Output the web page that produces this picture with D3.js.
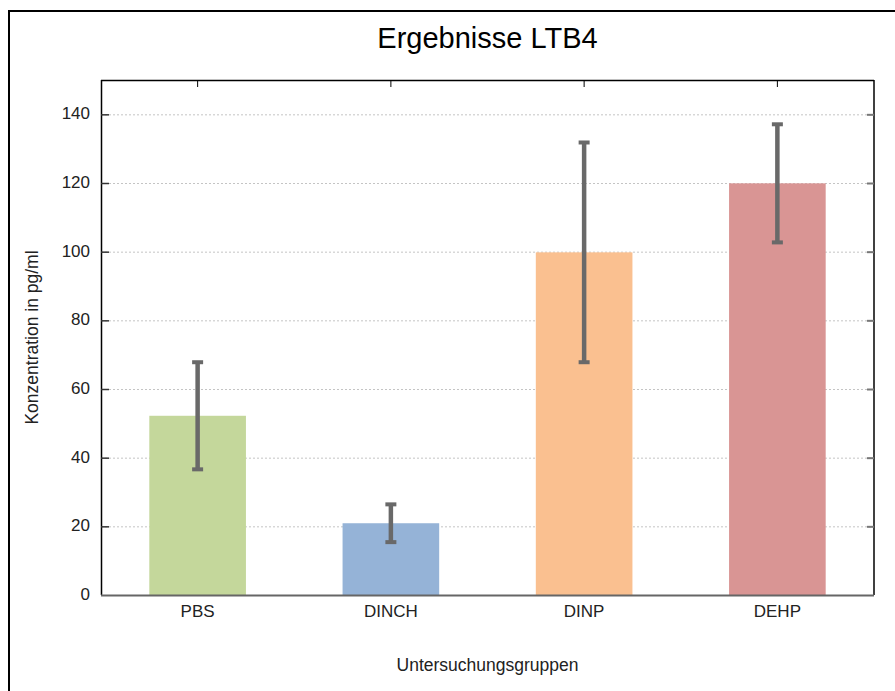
<!DOCTYPE html>
<html>
<head>
<meta charset="utf-8">
<script src="https://cdn.jsdelivr.net/npm/d3@7"></script>
<style>
  body { margin: 0; background: #fff; }
  svg { display: block; font-family: "Liberation Sans", Arial, sans-serif; }
</style>
</head>
<body>
<div id="chart"></div>
<script>
// data
var groups = ["PBS", "DINCH", "DINP", "DEHP"];
var means = [52.2, 20.9, 99.8, 119.9];
var errors = [15.6, 5.5, 32, 17.2];
var barColors = ["#c4d79b", "#95b3d7", "#fac090", "#d99594"];
var yTicks = [0, 20, 40, 60, 80, 100, 120, 140];

var width = 895, height = 691;
// plot box (note: "top" is reserved on window, so pLeft/pTop...)
var pLeft = 101, pRight = 874, pTop = 80, pBottom = 595;

var svg = d3.select("#chart").append("svg")
    .attr("width", width).attr("height", height);

// outer frame (only left and top are visible)
svg.append("rect")
    .attr("x", 9).attr("y", 11)
    .attr("width", 920).attr("height", 720)
    .attr("fill", "#fff").attr("stroke", "#000").attr("stroke-width", 2);

var x = d3.scaleBand().domain(groups).range([pLeft, pRight])
    .paddingInner(0.5).paddingOuter(0.25);
var y = d3.scaleLinear().domain([0, 150]).range([pBottom, pTop]);

// grid
svg.selectAll(".grid").data(yTicks.slice(1)).enter().append("line")
    .attr("x1", pLeft).attr("x2", pRight)
    .attr("y1", function(d) { return y(d) + 0.5; })
    .attr("y2", function(d) { return y(d) + 0.5; })
    .attr("stroke", "#c4c4c4").attr("stroke-dasharray", "2,2");

// bars
svg.selectAll(".bar").data(groups).enter().append("rect")
    .attr("x", function(d) { return x(d); })
    .attr("width", x.bandwidth())
    .attr("y", function(d, i) { return y(means[i]); })
    .attr("height", function(d, i) { return y(0) - y(means[i]); })
    .attr("fill", function(d, i) { return barColors[i]; });

// error bars
var eb = svg.selectAll(".err").data(groups).enter().append("g");
eb.append("line")
    .attr("x1", function(d) { return x(d) + x.bandwidth() / 2; })
    .attr("x2", function(d) { return x(d) + x.bandwidth() / 2; })
    .attr("y1", function(d, i) { return y(means[i] + errors[i]); })
    .attr("y2", function(d, i) { return y(means[i] - errors[i]); })
    .attr("stroke", "#696969").attr("stroke-width", 4.5);
[1, -1].forEach(function(s) {
  eb.append("line")
      .attr("x1", function(d) { return x(d) + x.bandwidth() / 2 - 5.5; })
      .attr("x2", function(d) { return x(d) + x.bandwidth() / 2 + 5.5; })
      .attr("y1", function(d, i) { return y(means[i] + s * errors[i]); })
      .attr("y2", function(d, i) { return y(means[i] + s * errors[i]); })
      .attr("stroke", "#696969").attr("stroke-width", 4);
});

// frame of plot area
svg.append("line").attr("x1", pLeft).attr("x2", pRight).attr("y1", pTop + 0.5).attr("y2", pTop + 0.5)
    .attr("stroke", "#000").attr("stroke-width", 1.5);
svg.append("line").attr("x1", pRight).attr("x2", pRight).attr("y1", pTop).attr("y2", pBottom)
    .attr("stroke", "#000").attr("stroke-width", 1.5);
svg.append("line").attr("x1", pLeft + 0.5).attr("x2", pLeft + 0.5).attr("y1", pTop).attr("y2", pBottom)
    .attr("stroke", "#000").attr("stroke-width", 1.5);
svg.append("line").attr("x1", pLeft).attr("x2", pRight).attr("y1", pBottom + 0.5).attr("y2", pBottom + 0.5)
    .attr("stroke", "#666").attr("stroke-width", 2);

// y axis ticks (inside) and labels
svg.selectAll(".ltick").data(yTicks.slice(1)).enter().append("line")
    .attr("x1", pLeft).attr("x2", pLeft + 8)
    .attr("y1", function(d) { return y(d) + 0.5; })
    .attr("y2", function(d) { return y(d) + 0.5; })
    .attr("stroke", "#333").attr("stroke-width", 1.5);
svg.selectAll(".rtick").data(yTicks.slice(1)).enter().append("line")
    .attr("x1", pRight - 7).attr("x2", pRight)
    .attr("y1", function(d) { return y(d) + 0.5; })
    .attr("y2", function(d) { return y(d) + 0.5; })
    .attr("stroke", "#777").attr("stroke-width", 2);
svg.selectAll(".ylab").data(yTicks).enter().append("text")
    .attr("x", 90)
    .attr("y", function(d) { return y(d) + 5; })
    .attr("text-anchor", "end")
    .attr("font-size", "17px").attr("fill", "#222")
    .text(function(d) { return d; });

// top ticks at categories
svg.selectAll(".ttick").data(groups).enter().append("line")
    .attr("x1", function(d) { return x(d) + x.bandwidth() / 2; })
    .attr("x2", function(d) { return x(d) + x.bandwidth() / 2; })
    .attr("y1", pTop).attr("y2", pTop + 7)
    .attr("stroke", "#000").attr("stroke-width", 1);

// category labels
svg.selectAll(".xlab").data(groups).enter().append("text")
    .attr("x", function(d) { return x(d) + x.bandwidth() / 2; })
    .attr("y", 617)
    .attr("text-anchor", "middle")
    .attr("font-size", "17px").attr("fill", "#222")
    .text(function(d) { return d; });

// titles
svg.append("text").attr("x", (pLeft + pRight) / 2).attr("y", 48)
    .attr("text-anchor", "middle").attr("font-size", "29px").attr("fill", "#000")
    .text("Ergebnisse LTB4");
svg.append("text").attr("x", (pLeft + pRight) / 2).attr("y", 671)
    .attr("text-anchor", "middle").attr("font-size", "17.5px").attr("fill", "#222")
    .text("Untersuchungsgruppen");
svg.append("text")
    .attr("transform", "translate(38," + ((pTop + pBottom) / 2) + ") rotate(-90)")
    .attr("text-anchor", "middle").attr("font-size", "17.5px").attr("fill", "#222")
    .text("Konzentration in pg/ml");
</script>
</body>
</html>
